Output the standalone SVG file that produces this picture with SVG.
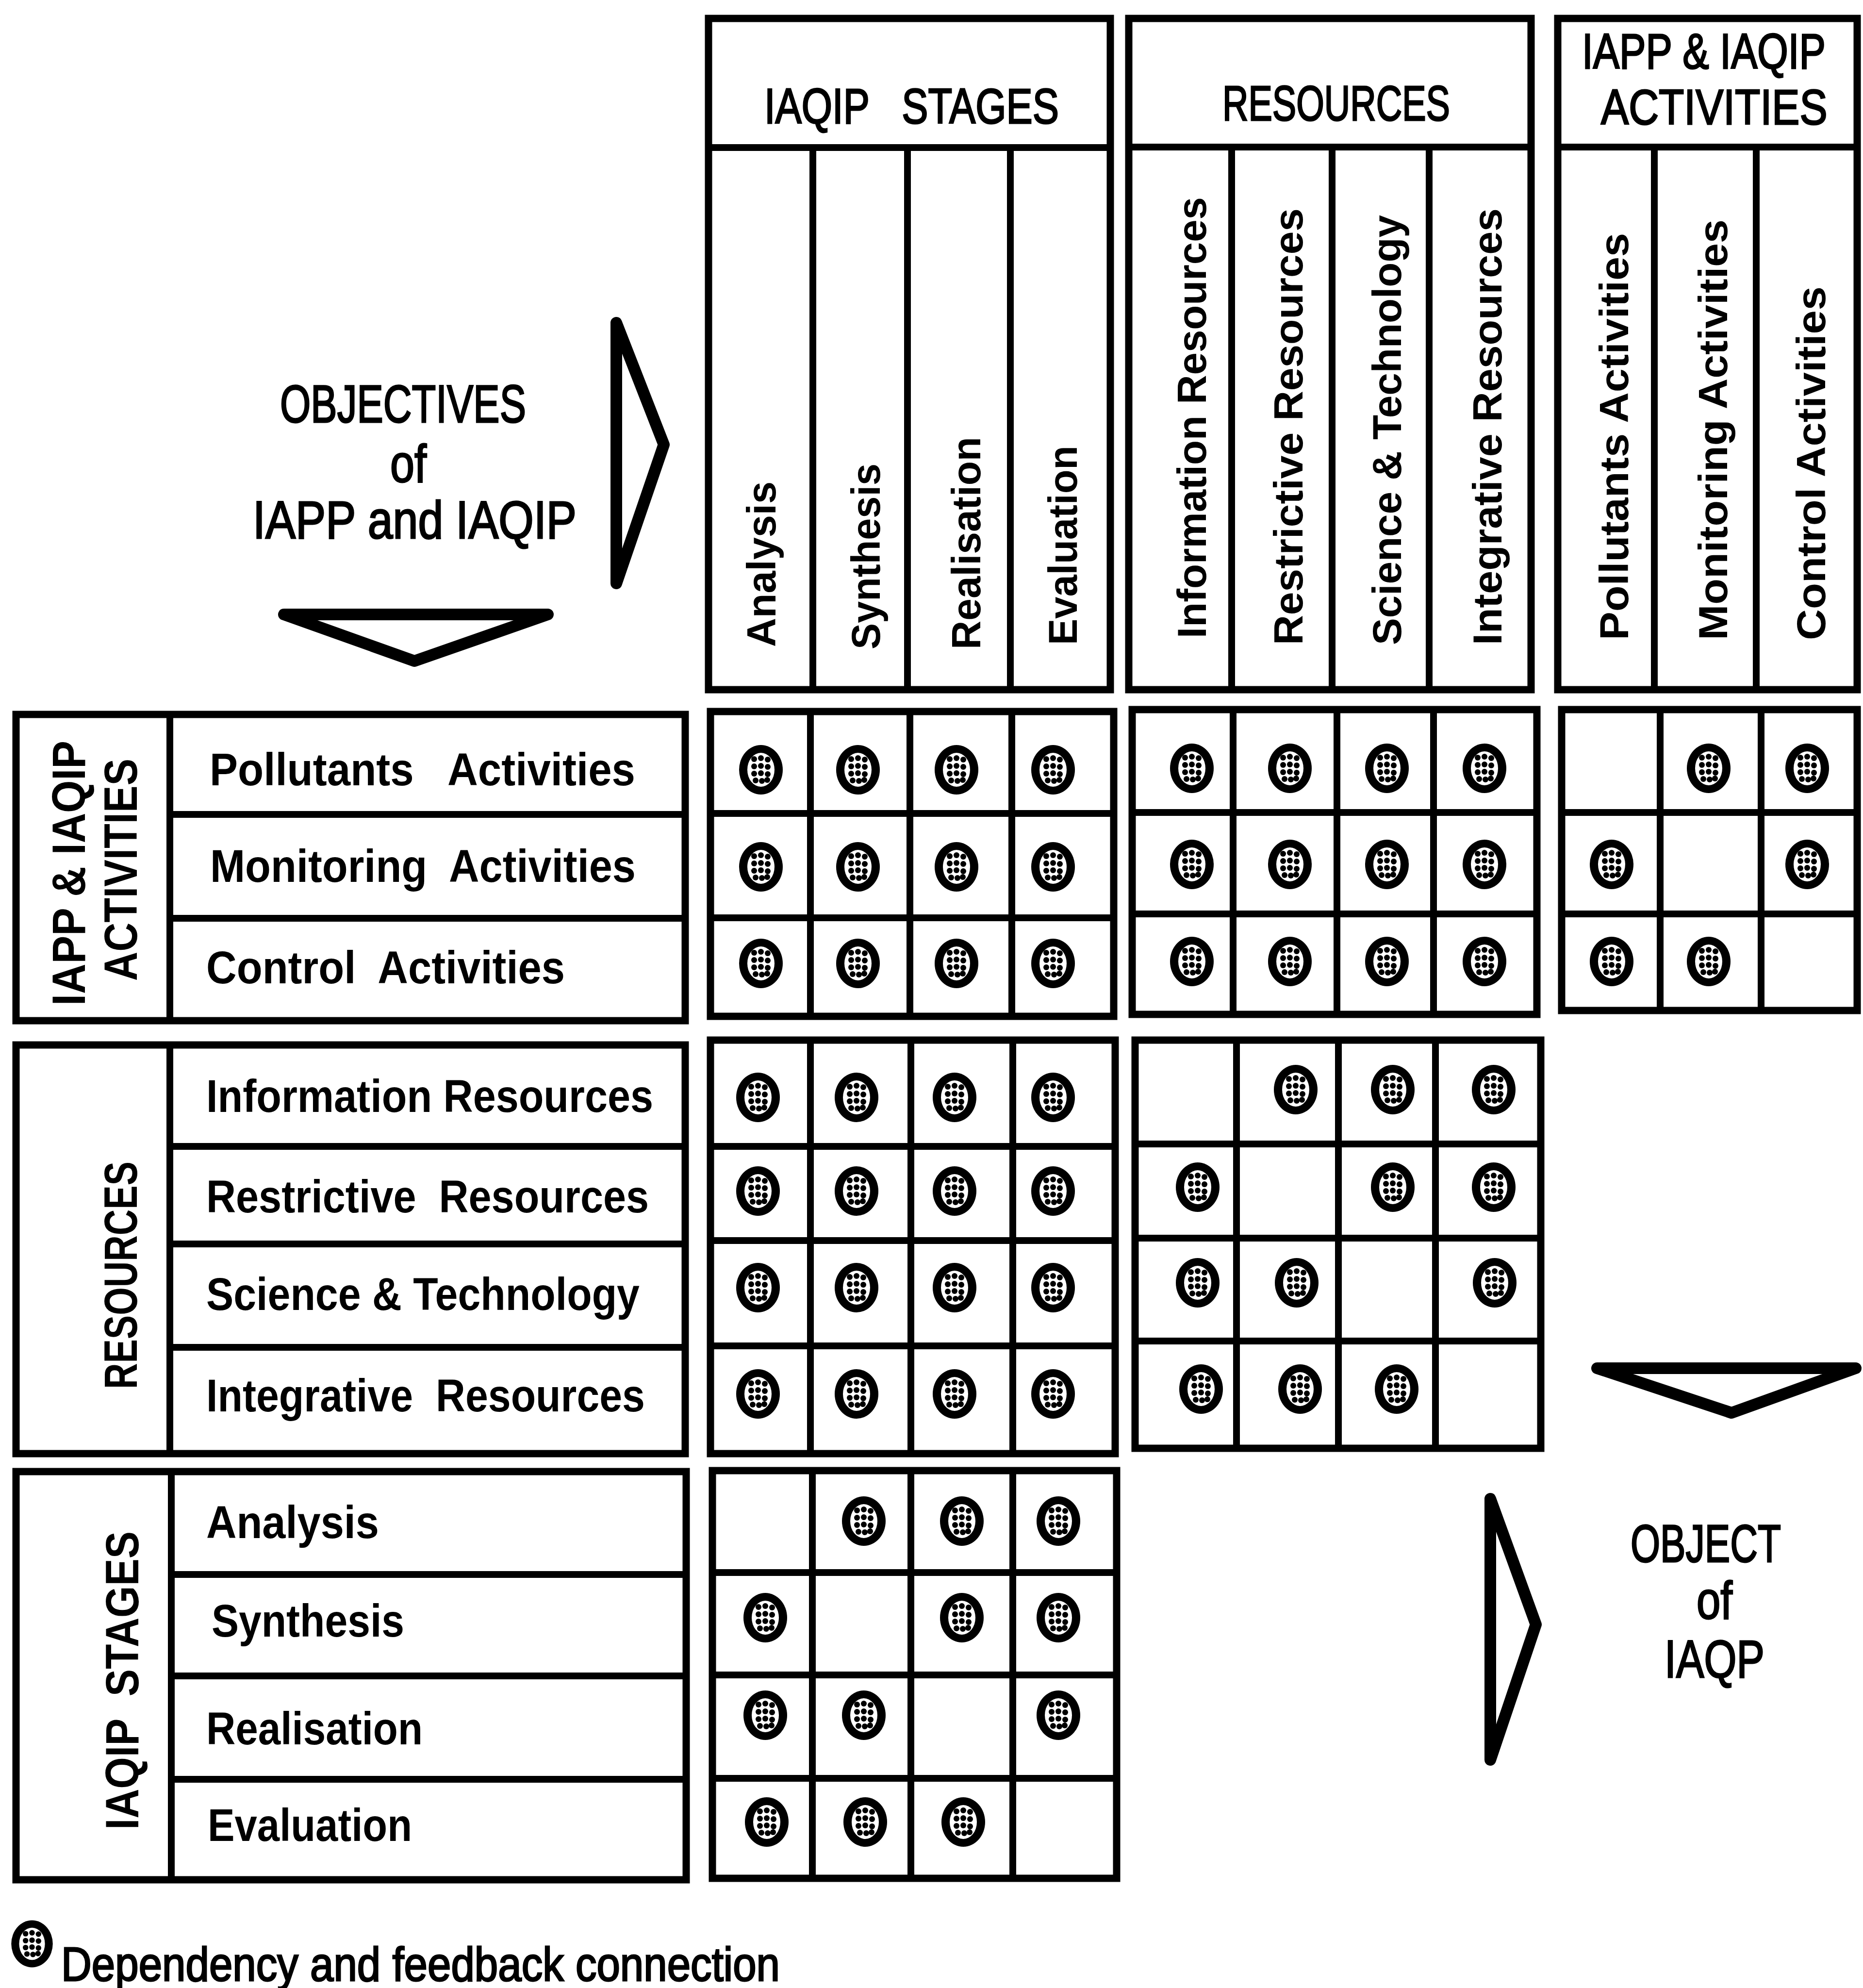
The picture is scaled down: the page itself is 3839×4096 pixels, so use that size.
<svg xmlns="http://www.w3.org/2000/svg" width="3839" height="4096" viewBox="0 0 3839 4096">
  <style>
    .frame { fill: none; stroke: #000; stroke-width: 14; stroke-linecap: square; }
    .outer { fill: #fff; stroke: #000; stroke-width: 15; }
    .arrow { fill: #fff; stroke: #000; stroke-width: 24; stroke-linejoin: round; }
    .bold { font-family: "Liberation Sans", Arial, sans-serif; font-weight: 700; fill: #000; }
    .plain { font-family: "Liberation Sans", Arial, sans-serif; font-weight: 400; fill: #000; stroke: #000; stroke-width: 3; }
    .col { font-size: 84px; }
    .row { font-size: 95px; }
    .side { font-size: 97px; }
    .hdr { font-size: 102px; }
    .obj { font-size: 110px; }
  </style>
  <defs>
    <!-- stippled connection marker -->
    <g id="dot">
      <ellipse rx="45" ry="51" fill="#000"/>
      <ellipse rx="28" ry="35" fill="#fff"/>
      <g fill="#000">
        <circle cx="-14" cy="-22" r="6"/><circle cx="0" cy="-24" r="6"/><circle cx="14" cy="-21" r="6"/>
        <circle cx="-14" cy="-7" r="6"/><circle cx="0" cy="-8" r="6"/><circle cx="14" cy="-6" r="6"/>
        <circle cx="-14" cy="8" r="6"/><circle cx="0" cy="7" r="6"/><circle cx="14" cy="9" r="6"/>
        <circle cx="-11" cy="22" r="6"/><circle cx="2" cy="23" r="6"/><circle cx="13" cy="21" r="6"/>
      </g>
    </g>
  </defs>

  <rect width="3839" height="4096" fill="#fff"/>

  <!-- column headers -->
  <g id="hdr-stages">
    <rect class="outer" x="1460" y="38" width="828" height="1383"/>
    <path class="frame" d="M1460 304H2288M1675 304V1421M1870 304V1421M2082 304V1421"/>
    <text class="plain hdr" xml:space="preserve" x="1575" y="254" textLength="607" lengthAdjust="spacingAndGlyphs">IAQIP   STAGES</text>
    <g class="bold col">
      <text transform="translate(1598,1333) rotate(-90)" textLength="341" lengthAdjust="spacingAndGlyphs">Analysis</text>
      <text transform="translate(1813,1338) rotate(-90)" textLength="383" lengthAdjust="spacingAndGlyphs">Synthesis</text>
      <text transform="translate(2020,1338) rotate(-90)" textLength="438" lengthAdjust="spacingAndGlyphs">Realisation</text>
      <text transform="translate(2219,1329) rotate(-90)" textLength="411" lengthAdjust="spacingAndGlyphs">Evaluation</text>
    </g>
  </g>

  <g id="hdr-resources">
    <rect class="outer" x="2326" y="38" width="829" height="1383"/>
    <path class="frame" d="M2326 303H3155M2538 303V1421M2745 303V1421M2945 303V1421"/>
    <text class="plain hdr" x="2519" y="248" textLength="469" lengthAdjust="spacingAndGlyphs">RESOURCES</text>
    <g class="bold col">
      <text transform="translate(2485,1315) rotate(-90)" textLength="909" lengthAdjust="spacingAndGlyphs">Information Resources</text>
      <text transform="translate(2684,1329) rotate(-90)" textLength="900" lengthAdjust="spacingAndGlyphs">Restrictive Resources</text>
      <text transform="translate(2887,1329) rotate(-90)" textLength="886" lengthAdjust="spacingAndGlyphs">Science &amp; Technology</text>
      <text transform="translate(3094,1329) rotate(-90)" textLength="900" lengthAdjust="spacingAndGlyphs">Integrative Resources</text>
    </g>
  </g>

  <g id="hdr-activities">
    <rect class="outer" x="3210" y="38" width="617" height="1383"/>
    <path class="frame" d="M3210 303H3827M3409 303V1421M3619 303V1421"/>
    <!-- narrowed by a horizontal scale so the caption stays inside its cell -->
    <text class="plain hdr" transform="translate(3260,141) scale(0.8,1)">IAPP &amp; IAQIP</text>
    <text class="plain hdr" transform="translate(3299,256) scale(0.84,1)">ACTIVITIES</text>
    <g class="bold col">
      <text transform="translate(3355,1319) rotate(-90)" textLength="839" lengthAdjust="spacingAndGlyphs">Pollutants Activities</text>
      <text transform="translate(3559,1319) rotate(-90)" textLength="867" lengthAdjust="spacingAndGlyphs">Monitoring Activities</text>
      <text transform="translate(3761,1319) rotate(-90)" textLength="729" lengthAdjust="spacingAndGlyphs">Control Activities</text>
    </g>
  </g>

  <!-- row headers -->
  <g id="row-activities">
    <rect class="outer" x="33" y="1472" width="1379" height="631"/>
    <path class="frame" d="M350 1472V2103M350 1678H1412M350 1892H1412"/>
    <g class="bold side">
      <text transform="translate(175,2072) rotate(-90)" textLength="546" lengthAdjust="spacingAndGlyphs">IAPP &amp; IAQIP</text>
      <text transform="translate(282,2021) rotate(-90)" textLength="458" lengthAdjust="spacingAndGlyphs">ACTIVITIES</text>
    </g>
    <g class="bold row">
      <text xml:space="preserve" x="432" y="1618" textLength="877" lengthAdjust="spacingAndGlyphs">Pollutants   Activities</text>
      <text xml:space="preserve" x="433" y="1817" textLength="877" lengthAdjust="spacingAndGlyphs">Monitoring  Activities</text>
      <text xml:space="preserve" x="425" y="2026" textLength="739" lengthAdjust="spacingAndGlyphs">Control  Activities</text>
    </g>
  </g>

  <g id="row-resources">
    <rect class="outer" x="33" y="2153" width="1379" height="842"/>
    <path class="frame" d="M350 2153V2995M350 2362H1412M350 2563H1412M350 2776H1412"/>
    <text class="bold side" transform="translate(282,2862) rotate(-90)" textLength="469" lengthAdjust="spacingAndGlyphs">RESOURCES</text>
    <g class="bold row">
      <text x="425" y="2291" textLength="921" lengthAdjust="spacingAndGlyphs">Information Resources</text>
      <text xml:space="preserve" x="425" y="2498" textLength="912" lengthAdjust="spacingAndGlyphs">Restrictive  Resources</text>
      <text x="425" y="2699" textLength="893" lengthAdjust="spacingAndGlyphs">Science &amp; Technology</text>
      <text xml:space="preserve" x="425" y="2908" textLength="904" lengthAdjust="spacingAndGlyphs">Integrative  Resources</text>
    </g>
  </g>

  <g id="row-stages">
    <rect class="outer" x="33" y="3032" width="1381" height="841"/>
    <path class="frame" d="M353 3032V3873M353 3244H1414M353 3453H1414M353 3666H1414"/>
    <text class="bold side" xml:space="preserve" transform="translate(285,3770) rotate(-90)" textLength="615" lengthAdjust="spacingAndGlyphs">IAQIP  STAGES</text>
    <g class="bold row">
      <text x="425" y="3169" textLength="356" lengthAdjust="spacingAndGlyphs">Analysis</text>
      <text x="436" y="3372" textLength="397" lengthAdjust="spacingAndGlyphs">Synthesis</text>
      <text x="425" y="3594" textLength="446" lengthAdjust="spacingAndGlyphs">Realisation</text>
      <text x="428" y="3793" textLength="421" lengthAdjust="spacingAndGlyphs">Evaluation</text>
    </g>
  </g>

  <!-- interaction matrices -->
  <g id="m-activities-stages">
    <rect class="outer" x="1464" y="1466" width="831" height="628"/>
    <path class="frame" d="M1670 1466V2094M1875 1466V2094M2085 1466V2094M1464 1676H2295M1464 1891H2295"/>
    <use href="#dot" x="1568" y="1586"/><use href="#dot" x="1768" y="1586"/><use href="#dot" x="1971" y="1586"/><use href="#dot" x="2170" y="1586"/>
    <use href="#dot" x="1568" y="1786"/><use href="#dot" x="1768" y="1786"/><use href="#dot" x="1971" y="1786"/><use href="#dot" x="2170" y="1786"/>
    <use href="#dot" x="1568" y="1985"/><use href="#dot" x="1768" y="1985"/><use href="#dot" x="1971" y="1985"/><use href="#dot" x="2170" y="1985"/>
  </g>

  <g id="m-activities-resources">
    <rect class="outer" x="2333" y="1462" width="834" height="628"/>
    <path class="frame" d="M2541 1462V2090M2755 1462V2090M2954 1462V2090M2333 1674H3167M2333 1883H3167"/>
    <use href="#dot" x="2456" y="1583"/><use href="#dot" x="2658" y="1583"/><use href="#dot" x="2858" y="1583"/><use href="#dot" x="3059" y="1583"/>
    <use href="#dot" x="2456" y="1781"/><use href="#dot" x="2658" y="1781"/><use href="#dot" x="2858" y="1781"/><use href="#dot" x="3059" y="1781"/>
    <use href="#dot" x="2456" y="1981"/><use href="#dot" x="2658" y="1981"/><use href="#dot" x="2858" y="1981"/><use href="#dot" x="3059" y="1981"/>
  </g>

  <g id="m-activities-activities">
    <rect class="outer" x="3218" y="1462" width="609" height="620"/>
    <path class="frame" d="M3421 1462V2082M3629 1462V2082M3218 1674H3827M3218 1883H3827"/>
    <use href="#dot" x="3521" y="1583"/><use href="#dot" x="3724" y="1583"/>
    <use href="#dot" x="3321" y="1781"/><use href="#dot" x="3724" y="1781"/>
    <use href="#dot" x="3321" y="1981"/><use href="#dot" x="3521" y="1981"/>
  </g>

  <g id="m-resources-stages">
    <rect class="outer" x="1464" y="2143" width="834" height="852"/>
    <path class="frame" d="M1670 2143V2995M1877 2143V2995M2087 2143V2995M1464 2362H2298M1464 2556H2298M1464 2773H2298"/>
    <use href="#dot" x="1562" y="2261"/><use href="#dot" x="1765" y="2261"/><use href="#dot" x="1967" y="2261"/><use href="#dot" x="2170" y="2261"/>
    <use href="#dot" x="1562" y="2454"/><use href="#dot" x="1765" y="2454"/><use href="#dot" x="1967" y="2454"/><use href="#dot" x="2170" y="2454"/>
    <use href="#dot" x="1562" y="2653"/><use href="#dot" x="1765" y="2653"/><use href="#dot" x="1967" y="2653"/><use href="#dot" x="2170" y="2653"/>
    <use href="#dot" x="1562" y="2872"/><use href="#dot" x="1765" y="2872"/><use href="#dot" x="1967" y="2872"/><use href="#dot" x="2170" y="2872"/>
  </g>

  <g id="m-resources-resources">
    <rect class="outer" x="2339" y="2143" width="836" height="841"/>
    <path class="frame" d="M2548 2143V2984M2758 2143V2984M2958 2143V2984M2339 2357H3175M2339 2551H3175M2339 2763H3175"/>
    <use href="#dot" x="2670" y="2245"/><use href="#dot" x="2870" y="2245"/><use href="#dot" x="3078" y="2245"/>
    <use href="#dot" x="2468" y="2446"/><use href="#dot" x="2870" y="2446"/><use href="#dot" x="3078" y="2446"/>
    <use href="#dot" x="2468" y="2643"/><use href="#dot" x="2672" y="2643"/><use href="#dot" x="3080" y="2643"/>
    <use href="#dot" x="2475" y="2862"/><use href="#dot" x="2679" y="2862"/><use href="#dot" x="2878" y="2862"/>
  </g>

  <g id="m-stages-stages">
    <rect class="outer" x="1468" y="3030" width="833" height="840"/>
    <path class="frame" d="M1674 3030V3870M1877 3030V3870M2087 3030V3870M1468 3240H2301M1468 3451H2301M1468 3664H2301"/>
    <use href="#dot" x="1780" y="3134"/><use href="#dot" x="1982" y="3134"/><use href="#dot" x="2181" y="3134"/>
    <use href="#dot" x="1577" y="3333"/><use href="#dot" x="1982" y="3333"/><use href="#dot" x="2181" y="3333"/>
    <use href="#dot" x="1577" y="3534"/><use href="#dot" x="1780" y="3534"/><use href="#dot" x="2181" y="3534"/>
    <use href="#dot" x="1580" y="3754"/><use href="#dot" x="1783" y="3754"/><use href="#dot" x="1985" y="3754"/>
  </g>

  <!-- objectives and object captions -->
  <g id="objectives">
    <text class="plain obj" x="577" y="870" textLength="507" lengthAdjust="spacingAndGlyphs">OBJECTIVES</text>
    <text class="plain obj" x="804" y="993" textLength="75" lengthAdjust="spacingAndGlyphs">of</text>
    <text class="plain obj" x="521" y="1109" textLength="667" lengthAdjust="spacingAndGlyphs">IAPP and IAQIP</text>
  </g>

  <g id="object">
    <text class="plain obj" x="3360" y="3218" textLength="310" lengthAdjust="spacingAndGlyphs">OBJECT</text>
    <text class="plain obj" x="3496" y="3335" textLength="74" lengthAdjust="spacingAndGlyphs">of</text>
    <text class="plain obj" x="3430" y="3456" textLength="206" lengthAdjust="spacingAndGlyphs">IAQP</text>
  </g>

  <!-- flow arrows -->
  <g id="arrows">
    <polygon class="arrow" points="1270,665 1368,916 1270,1202"/>
    <polygon class="arrow" points="585,1266 1129,1266 854,1362"/>
    <polygon class="arrow" points="3291,2819 3824,2819 3568,2911"/>
    <polygon class="arrow" points="3071,3088 3165,3347 3071,3626"/>
  </g>

  <!-- legend -->
  <g id="legend">
    <use href="#dot" transform="translate(66,4005) scale(0.95)"/>
    <text class="plain" x="126" y="4081" font-size="99" textLength="1481" lengthAdjust="spacingAndGlyphs">Dependency and feedback connection</text>
  </g>
</svg>
